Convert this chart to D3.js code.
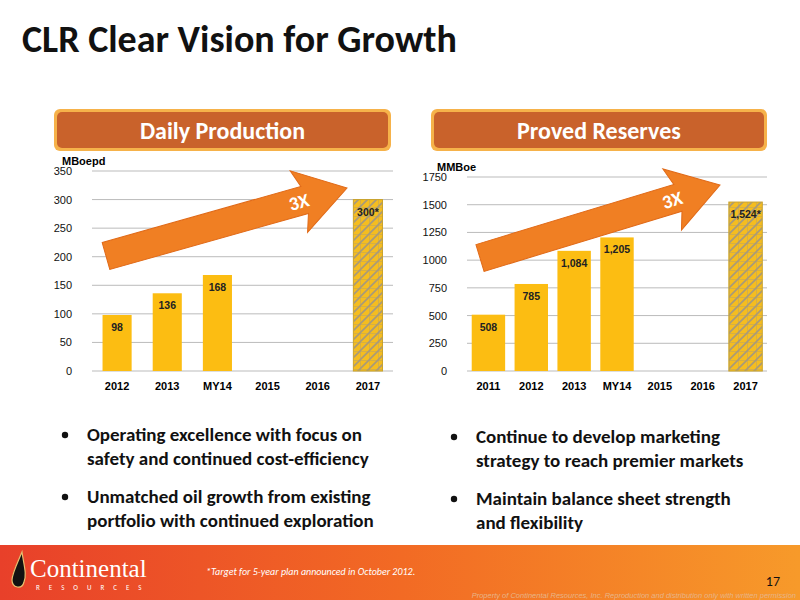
<!DOCTYPE html><html><head><meta charset="utf-8"><script src="https://cdn.jsdelivr.net/npm/d3@7"></script>
<style>body{margin:0}svg{font-family:Calibri,"Open Sans","Liberation Sans",sans-serif}</style></head><body>
<svg id="c" width="800" height="600"></svg>
<script>
const prodCats=["2012","2013","MY14","2015","2016","2017"];
const prodVals=[98,136,168,null,null,300];
const prodLabels=["98","136","168","","","300*"];
const prodTicks=[0,50,100,150,200,250,300,350];
const resCats=["2011","2012","2013","MY14","2015","2016","2017"];
const resVals=[508,785,1084,1205,null,null,1524];
const resLabels=["508","785","1,084","1,205","","","1,524*"];
const resTicks=[0,250,500,750,1000,1250,1500,1750];
const targetCat="2017";

const svg=d3.select("#c");
const defs=svg.append("defs");
const pat=defs.append("pattern").attr("id","hatch").attr("patternUnits","userSpaceOnUse").attr("width",9).attr("height",9);
pat.append("rect").attr("width",9).attr("height",9).attr("fill","#f5bd1f");
pat.append("path").attr("d","M0,9L9,0M-2,2L2,-2M7,11L11,7").attr("stroke","#a89a7a").attr("stroke-width",1.6);
pat.append("path").attr("d","M0,0H9M0,0V9").attr("stroke","#a89a7a").attr("stroke-width",0.8);
const fg=defs.append("linearGradient").attr("id","foot");
fg.append("stop").attr("offset","0").attr("stop-color","#e8402a");
fg.append("stop").attr("offset","0.5").attr("stop-color","#f26a24");
fg.append("stop").attr("offset","1").attr("stop-color","#f79a2a");

svg.append("text").attr("x",22).attr("y",52).attr("font-size",38).attr("font-weight","bold").attr("fill","#111").text("CLR Clear Vision for Growth");

function header(x,w,t){
 svg.append("rect").attr("x",x).attr("y",109).attr("width",w).attr("height",42).attr("rx",6).attr("fill","#f6b24a");
 svg.append("rect").attr("x",x+3).attr("y",112).attr("width",w-6).attr("height",36).attr("rx",5).attr("fill","#c9622b");
 svg.append("text").attr("x",x+w/2).attr("y",139).attr("text-anchor","middle").attr("font-size",24).attr("font-weight","bold").attr("fill","#fff").text(t);
}
header(54,337,"Daily Production");
header(431,336,"Proved Reserves");

function chart(x0,x1,yTop,max,cats,vals,labels,ticks,unit,pad,arrowFrom,arrowTo){
 const x=d3.scaleBand().domain(cats).range([x0,x1]).paddingInner(pad).paddingOuter(pad/2);
 const y=d3.scaleLinear().domain([0,max]).range([371,yTop]);
 const g=svg.append("g");
 g.selectAll(".gl").data(ticks).join("line").attr("x1",x0).attr("x2",x1).attr("y1",d=>y(d)).attr("y2",d=>y(d)).attr("stroke","#bbb").attr("stroke-width",1);
 g.selectAll(".tl").data(ticks).join("text").attr("x",x0-20).attr("y",d=>y(d)+4).attr("text-anchor","end").attr("font-size",11).attr("font-family","Liberation Sans,Arial").attr("fill","#111").text(d=>d);
 svg.append("text").attr("x",x0-30).attr("y",yTop-6).attr("font-size",11).attr("font-weight","bold").attr("font-family","Liberation Sans,Arial").text(unit);
 const [ax,ay]=arrowFrom,[bx,by]=arrowTo;
 const ang=Math.atan2(by-ay,bx-ax),L=Math.hypot(bx-ax,by-ay);
 const ag=svg.append("g").attr("transform",`translate(${ax},${ay}) rotate(${ang*180/Math.PI})`);
 ag.append("path").attr("d",`M0,-14L${L-44},-14L${L-50},-32L${L},0L${L-50},32L${L-44},14L0,14Z`).attr("fill","#f07f23").attr("stroke","#e06a18");
 ag.append("text").attr("x",L-50).attr("y",7).attr("text-anchor","middle").attr("font-size",19).attr("font-weight","bold").attr("fill","#fff").text("3X");
 const data=cats.map((c,i)=>({c,v:vals[i],l:labels[i]})).filter(d=>d.v!=null);
 const bg=svg.append("g");
 bg.selectAll(".b").data(data).join("rect").attr("x",d=>x(d.c)).attr("width",x.bandwidth()).attr("y",d=>y(d.v)).attr("height",d=>371-y(d.v))
  .attr("fill",d=>d.c===targetCat?"url(#hatch)":"#fcbd12").attr("stroke",d=>d.c===targetCat?"#c9a22a":"none");
 bg.selectAll(".bl").data(data).join("text").attr("x",d=>x(d.c)+x.bandwidth()/2).attr("y",d=>y(d.v)+16).attr("text-anchor","middle").attr("font-size",10.5).attr("font-weight","bold").attr("font-family","Liberation Sans,Arial").attr("fill","#222").text(d=>d.l);
 bg.selectAll(".xl").data(cats).join("text").attr("x",d=>x(d)+x.bandwidth()/2).attr("y",390).attr("text-anchor","middle").attr("font-size",11).attr("font-weight","bold").attr("font-family","Liberation Sans,Arial").text(d=>d);
}
chart(92,393,171,350,prodCats,prodVals,prodLabels,prodTicks,"MBoepd",0.42,[106,256],[347,188]);
chart(467,767,177,1750,resCats,resVals,resLabels,resTicks,"MMBoe",0.22,[480,258],[720,185]);

function bullets(x,y,lines){
 lines.forEach((b,i)=>{
  const yy=y+i*62;
  svg.append("circle").attr("cx",x).attr("cy",yy-6).attr("r",3.2).attr("fill","#111");
  b.forEach((t,j)=>svg.append("text").attr("x",x+22).attr("y",yy+j*24).attr("font-size",19).attr("font-weight","bold").attr("fill","#111").text(t));
 });
}
bullets(65,441,[["Operating excellence with focus on","safety and continued cost-efficiency"],["Unmatched oil growth from existing","portfolio with continued exploration"]]);
bullets(454,443,[["Continue to develop marketing","strategy to reach premier markets"],["Maintain balance sheet strength","and flexibility"]]);

svg.append("rect").attr("x",0).attr("y",545).attr("width",800).attr("height",55).attr("fill","url(#foot)");
svg.append("path").attr("d","M22,552C16,566 12,574 12,580C12,588 22,590 24,582C27,574 24,566 22,552Z").attr("fill","#111").attr("stroke","#e8c070").attr("stroke-width",1.2);
svg.append("text").attr("x",30).attr("y",577).attr("font-size",25).attr("font-family","Liberation Serif,serif").attr("fill","#fff").text("Continental");
svg.append("text").attr("x",36).attr("y",590).attr("font-size",7).attr("letter-spacing",9).attr("fill","#fff").text("RESOURCES");
svg.append("text").attr("x",206).attr("y",575).attr("font-size",10).attr("font-style","italic").attr("fill","#fff").text("*Target for 5-year plan announced in October 2012.");
svg.append("text").attr("x",780).attr("y",586).attr("text-anchor","end").attr("font-size",14).attr("fill","#111").text("17");
svg.append("text").attr("x",796).attr("y",598).attr("text-anchor","end").attr("font-size",7.5).attr("font-style","italic").attr("font-family","Liberation Sans,Arial").attr("fill","#e8b488").text("Property of Continental Resources, Inc. Reproduction and distribution only with written permission");
</script></body></html>
